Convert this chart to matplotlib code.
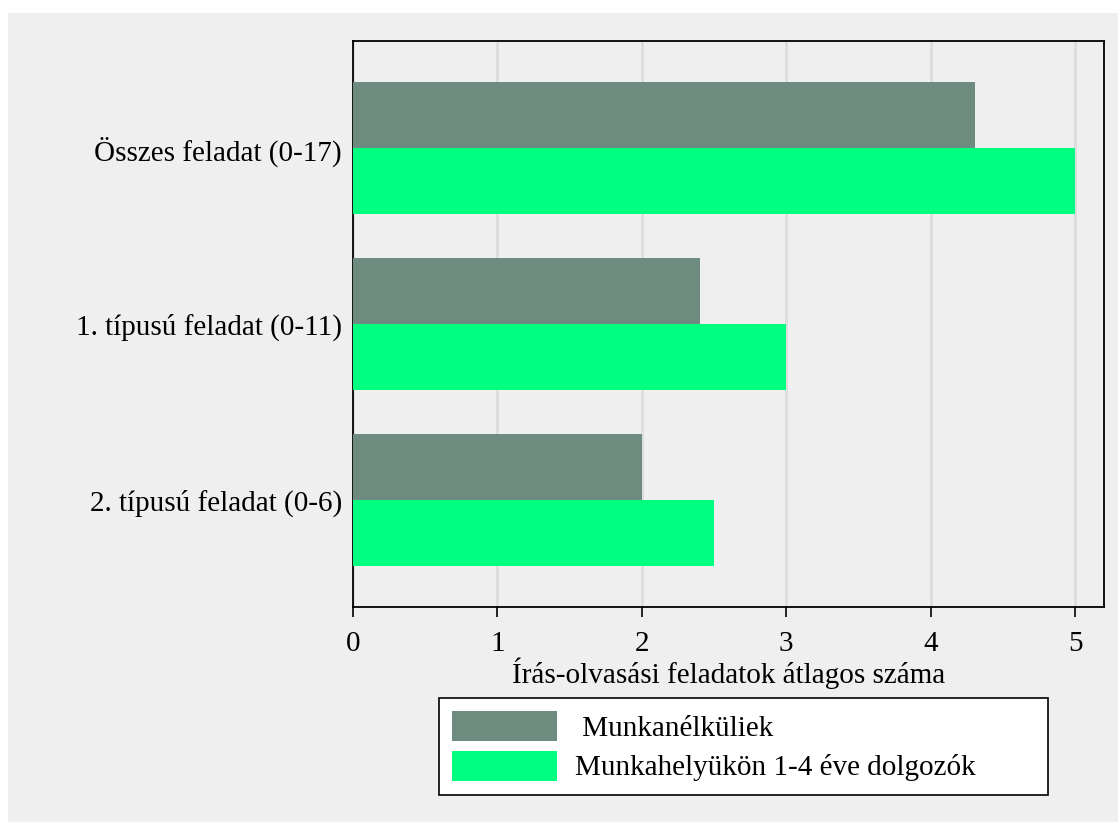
import matplotlib
matplotlib.use('Agg')
import matplotlib.pyplot as plt
from matplotlib.patches import Rectangle
import numpy as np

# adatok
categories = ["Összes feladat (0-17)", "1. típusú feladat (0-11)", "2. típusú feladat (0-6)"]
munkanelkuliek = [4.31, 2.40, 2.00]
dolgozok = [5.00, 3.00, 2.50]
series_labels = [" Munkanélküliek", "Munkahelyükön 1-4 éve dolgozók"]
xticks = [0, 1, 2, 3, 4, 5]

plt.rcParams['font.family'] = ['Liberation Serif', 'DejaVu Serif']

fig = plt.figure(figsize=(11.18, 8.22), dpi=100, facecolor='white')
# szürke háttér
fig.patches.append(Rectangle((8 / 1118, 0), 1 - 8 / 1118, 1 - 13 / 822,
                             transform=fig.transFigure, facecolor='#efefef',
                             edgecolor='none', zorder=-10))

ax = fig.add_axes([353 / 1118, 1 - 607 / 822, (1104 - 353) / 1118, (607 - 41) / 822])
ax.set_facecolor('#efefef')

y = np.arange(len(categories))
h = 0.375
ax.barh(y - h / 2, munkanelkuliek, height=h, color='#6e8b80', label=series_labels[0], zorder=3)
ax.barh(y + h / 2, dolgozok, height=h, color='#00ff80', label=series_labels[1], zorder=3)

ax.set_ylim(2.61, -0.61)
ax.set_xlim(0, 5.2)
ax.set_yticks(y)
ax.set_yticklabels(categories, fontsize=21)
ax.tick_params(axis='y', length=0, pad=8)
ax.set_xticks(xticks)
ax.set_xticklabels([str(t) for t in xticks], fontsize=21)
ax.tick_params(axis='x', length=7, width=1.2, pad=10)
ax.xaxis.grid(True, color='#dcdcdc', linewidth=2, zorder=0)
ax.set_axisbelow(True)
for s in ax.spines.values():
    s.set_color('black')
    s.set_linewidth(1.3)

ax.set_xlabel("Írás-olvasási feladatok átlagos száma", fontsize=21, labelpad=0.5)

leg = fig.legend(loc='upper left',
                 bbox_to_anchor=(439 / 1118, 1 - 795 / 822, (1048 - 439) / 1118, 97 / 822),
                 mode='expand', borderaxespad=0,
                 fontsize=21, frameon=True, fancybox=False, edgecolor='black',
                 facecolor='white', handlelength=3.6, handleheight=1.2,
                 borderpad=0.45, labelspacing=0.3, handletextpad=0.6)
leg.get_frame().set_linewidth(1.2)
leg.get_frame().set_alpha(1)

fig.savefig('out.png', dpi=100, facecolor=fig.get_facecolor())
